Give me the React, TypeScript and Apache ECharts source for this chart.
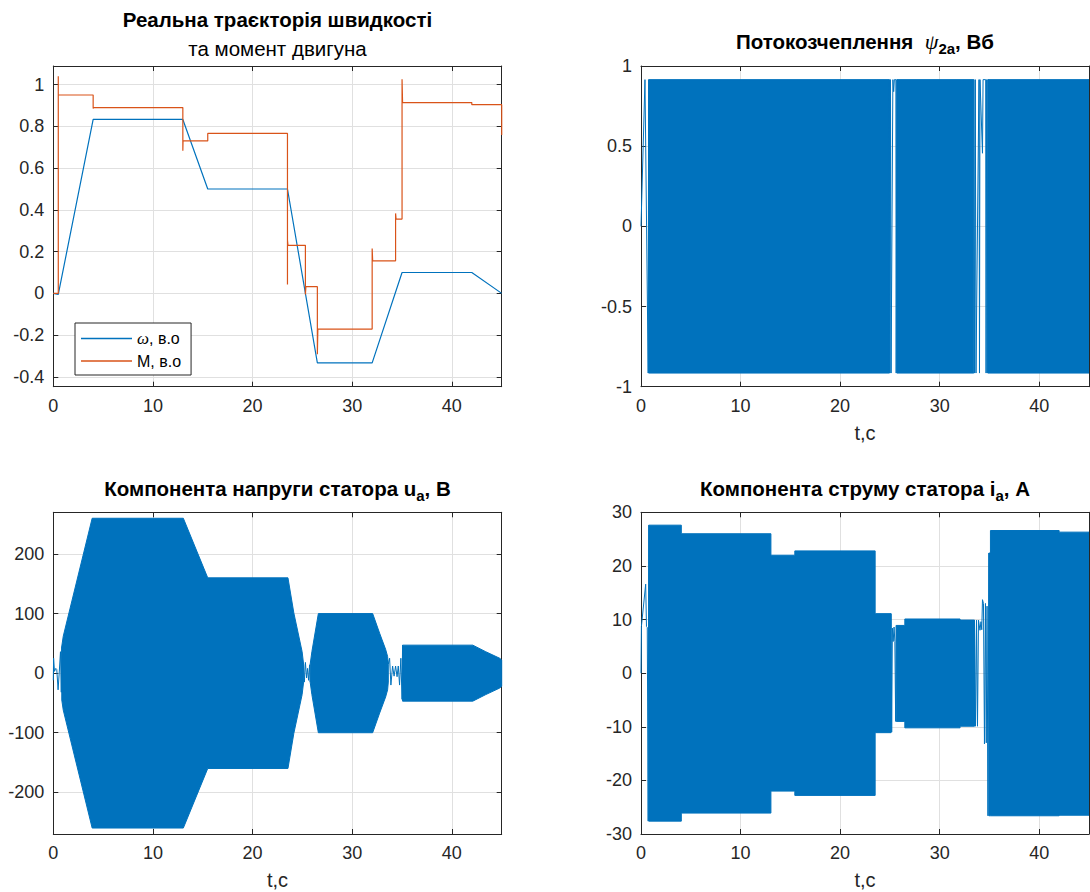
import React, { useEffect, useRef } from 'react';
import * as echarts from 'echarts';

// ---------- Top-left: speed ω and torque M (p.u.) ----------
const wT = [0, 0.5, 4.0, 13.0, 15.5, 23.5, 26.5, 32.0, 35.0, 42.0, 45.0];
const wV = [0, -0.005, 0.833, 0.833, 0.5, 0.5, -0.333, -0.333, 0.1, 0.1, 0];

const mT = [0, 0.5, 0.5, 0.5, 4.0, 4.0, 4.05, 13.0, 13.0, 13.02, 15.5, 15.5, 23.5, 23.5, 23.5, 23.55, 25.3, 25.3, 25.35, 26.5, 26.5, 26.55, 32.0, 32.0, 32.05, 34.35, 34.35, 34.4, 35.0, 35.0, 35.05, 42.0, 42.0, 45.0, 45.0];
const mV = [0, 0, 1.04, 0.95, 0.95, 0.885, 0.89, 0.89, 0.683, 0.73, 0.73, 0.766, 0.766, 0.043, 0.255, 0.23, 0.23, -0.005, 0.032, 0.032, -0.292, -0.171, -0.171, 0.215, 0.156, 0.156, 0.383, 0.356, 0.356, 1.025, 0.914, 0.914, 0.904, 0.904, 0.758];

// ---------- Top-right: flux linkage ψ2a envelope (Wb) ----------
const psiBandT = [0.77, 24.95, 25.3, 25.7, 33.43, 34.0, 34.84, 45.0];
const psiBandUp = [0.915, 0.915, null, 0.915, 0.915, null, 0.915, 0.915];
const psiBandLo = [-0.915, -0.915, null, -0.915, -0.915, null, -0.915, -0.915];
const psiW1T = [0, 0.4, 0.72, 0.77];
const psiW1V = [0, 0.915, -0.915, 0.915];
const psiW2T = [24.95, 25.0, 25.06, 25.12, 25.3, 25.38, 25.45, 25.6, 25.63, 25.7];
const psiW2V = [0.915, -0.915, 0.915, -0.915, 0.915, 0.84, 0.915, 0.915, -0.915, 0.915];
const psiW3T = [33.43, 33.5, 33.58, 33.65, 33.95, 34.0, 34.05, 34.3, 34.36, 34.62, 34.66, 34.72, 34.78, 34.84];
const psiW3V = [0.915, -0.915, 0.915, -0.915, 0.915, -0.915, 0.915, 0.456, 0.915, 0.915, -0.915, 0.915, -0.915, 0.915];

// ---------- Bottom-left: stator voltage u_a envelope (V) ----------
const uBandT = [0.85, 1.0, 3.9, 13.05, 15.5, 23.55, 24.14, 24.97, 25.12, 25.5, 25.78, 25.95, 26.6, 32.05, 32.75, 33.35, 33.55, 33.62, 34.5, 35.05, 42.1, 43.4, 44.8, 45.0];
const uBandUp = [45, 62, 260, 260, 160, 160, 101, 36, 15, null, 15, 36, 100, 100, 67, 40, 28, 15, null, 47, 47, 36, 25, 22];
const uBandLo = [-45, -62, -260, -260, -160, -160, -101, -36, -15, null, -15, -36, -100, -100, -67, -40, -28, -15, null, -47, -47, -36, -25, -22];
const uW1T = [0, 0.03, 0.12, 0.25, 0.35, 0.48, 0.6, 0.72, 0.8, 0.85];
const uW1V = [-12, 25, 3, 8, 6, -28, 2, 36, -32, 45];
const uW2T = [25.12, 25.2, 25.3, 25.42, 25.52, 25.62, 25.72, 25.78];
const uW2V = [15, -15, 18, -8, 8, -12, 14, -15];
const uW3T = [33.62, 33.75, 33.88, 34.05, 34.2, 34.35, 34.5, 34.62, 34.75, 34.88, 35.0, 35.05];
const uW3V = [15, 25, -20, 12, -5, 12, -6, 12, -20, 25, -44, 47];

// ---------- Bottom-right: stator current i_a envelope (A) ----------
const iBandT = [0.78, 4.05, 4.05, 13.05, 13.05, 15.45, 15.45, 23.52, 23.52, 25.12, 25.4, 25.64, 26.5, 26.5, 32.05, 32.05, 33.5, 33.7, 34.94, 35.1, 35.1, 42.0, 42.0, 45.0];
const iBandUp = [27.6, 27.6, 26.0, 26.0, 22.0, 22.0, 22.8, 22.8, 11.1, 11.1, null, 8.9, 8.9, 10.1, 10.1, 9.9, 9.9, null, 22.4, 22.4, 26.6, 26.6, 26.3, 26.3];
const iBandLo = [-27.6, -27.6, -26.1, -26.1, -22.0, -22.0, -22.8, -22.8, -11.1, -11.1, null, -9.0, -9.0, -10.2, -10.2, -9.9, -9.9, null, -26.6, -26.6, -26.6, -26.6, -26.5, -26.5];
const iW1T = [0, 0.04, 0.47, 0.55, 0.63, 0.72, 0.78];
const iW1V = [0, 8.7, 16.6, 8.7, 8.5, -27.6, 27.6];
const iW2T = [25.12, 25.18, 25.25, 25.33, 25.42, 25.5, 25.58, 25.64];
const iW2V = [11.1, -11, 8.4, 5.9, 8.6, 5.9, -9, 8.9];
const iW3T = [33.5, 33.6, 33.7, 33.8, 33.9, 34.05, 34.15, 34.23, 34.3, 34.4, 34.5, 34.6, 34.68, 34.76, 34.85, 34.94];
const iW3V = [9.9, -9.9, 9.9, -9.9, 9.9, 8.0, 9.6, 8.1, 13.7, 13.0, -13.2, 13.0, -13, 12.5, -26.6, 22.4];

// ---------- axis settings ----------
const xTicks = { min: 0, max: 45, interval: 10 };
const yTL = { min: -0.447, max: 1.089, step: 0.2 };
const yTR = { min: -1, max: 1, step: 0.5 };
const yBL = { min: -270, max: 270, step: 100 };
const yBR = { min: -30, max: 30, step: 10 };

const BLUE = '#0072BD';
const ORANGE = '#D95319';
const AX = '#262626';
const GRIDC = '#e0e0e0';
const FONT = '"Liberation Sans", Arial, Helvetica, sans-serif';
const SERIF = '"Liberation Serif", "DejaVu Serif", serif';

const grids = [
  { left: 53.3, top: 66, width: 448.4, height: 320.7 },
  { left: 641, top: 66, width: 448, height: 320.7 },
  { left: 53.3, top: 512.3, width: 448.4, height: 321.7 },
  { left: 641, top: 512.3, width: 448, height: 321.7 },
];

function pairs(T: number[], V: (number | null)[]) {
  return T.map((t, i) => [t, V[i] == null ? '-' : V[i]]);
}

function xAxes(gi: number, named: boolean) {
  const base: any = {
    type: 'value', gridIndex: gi, min: xTicks.min, max: xTicks.max, interval: xTicks.interval,
    axisLine: { show: true, onZero: false, lineStyle: { color: AX, width: 1 } },
    axisTick: { show: true, inside: true, length: 5, lineStyle: { color: AX, width: 1 } },
  };
  return [
    {
      ...base, position: 'bottom',
      axisLabel: { show: true, color: AX, fontSize: 18, fontFamily: FONT, margin: 10, showMaxLabel: false },
      splitLine: { show: true, lineStyle: { color: GRIDC, width: 1 } },
      name: named ? 't,c' : '', nameLocation: 'middle', nameGap: 36,
      nameTextStyle: { color: AX, fontSize: 20, fontFamily: FONT },
    },
    { ...base, position: 'top', axisLabel: { show: false }, splitLine: { show: false } },
  ];
}

function yAxes(gi: number, r: { min: number; max: number; step: number }) {
  const aligned = Math.abs(r.min / r.step - Math.round(r.min / r.step)) < 1e-9;
  const base: any = {
    type: 'value', gridIndex: gi, min: r.min, max: r.max,
    axisLine: { show: true, onZero: false, lineStyle: { color: AX, width: 1 } },
    axisTick: { show: true, inside: true, length: 5, lineStyle: { color: AX, width: 1 } },
  };
  if (aligned) base.interval = r.step;
  else { base.minInterval = r.step; base.maxInterval = r.step; base.splitNumber = Math.round((r.max - r.min) / r.step); }
  return [
    {
      ...base, position: 'left',
      axisLabel: { show: true, color: AX, fontSize: 18, fontFamily: FONT, margin: 9, showMinLabel: aligned, showMaxLabel: aligned },
      splitLine: { show: true, lineStyle: { color: GRIDC, width: 1 } },
    },
    { ...base, position: 'right', axisLabel: { show: false }, splitLine: { show: false } },
  ];
}

function band(gi: number, T: number[], Up: (number | null)[], Lo: (number | null)[]) {
  return {
    type: 'custom', xAxisIndex: gi * 2, yAxisIndex: gi * 2, silent: true, clip: true,
    data: [[T[0], 0]],
    renderItem: (_p: any, api: any) => {
      const children: any[] = [];
      let seg: number[] = [];
      const flush = () => {
        if (seg.length > 1) {
          const top = seg.map((i) => api.coord([T[i], Up[i]]));
          const bot = seg.slice().reverse().map((i) => api.coord([T[i], Lo[i]]));
          children.push({ type: 'polygon', shape: { points: top.concat(bot) }, style: { fill: BLUE, stroke: BLUE, lineWidth: 1 } });
        }
        seg = [];
      };
      for (let i = 0; i < T.length; i++) {
        if (Up[i] == null) flush(); else seg.push(i);
      }
      flush();
      return { type: 'group', children };
    },
  };
}

function wiggle(gi: number, T: number[], V: number[]) {
  return {
    type: 'line', xAxisIndex: gi * 2, yAxisIndex: gi * 2, data: pairs(T, V), symbol: 'none',
    lineStyle: { color: BLUE, width: 1 }, silent: true,
  };
}

const titleRich: any = {
  b: { fontFamily: FONT, fontSize: 20.5, fontWeight: 'bold', color: '#000', lineHeight: 30 },
  n: { fontFamily: FONT, fontSize: 20.5, color: '#000', lineHeight: 30 },
  g: { fontFamily: SERIF, fontStyle: 'italic', fontSize: 22, color: '#000', lineHeight: 30 },
  s: { fontFamily: FONT, fontSize: 15, fontWeight: 'bold', color: '#000', lineHeight: 12, verticalAlign: 'bottom' },
};

function title(x: number, y: number, text: string) {
  return { type: 'text', x, y, z: 100, style: { text, rich: titleRich, align: 'center', verticalAlign: 'middle' } };
}

function buildOption() {
  const xAxis = [...xAxes(0, false), ...xAxes(1, true), ...xAxes(2, true), ...xAxes(3, true)];
  const yAxis = [...yAxes(0, yTL), ...yAxes(1, yTR), ...yAxes(2, yBL), ...yAxes(3, yBR)];
  const series: any[] = [
    {
      name: 'ω, в.о', type: 'line', xAxisIndex: 0, yAxisIndex: 0, data: pairs(wT, wV), symbol: 'none',
      lineStyle: { color: BLUE, width: 1.2 }, itemStyle: { color: BLUE },
    },
    {
      name: 'M, в.о', type: 'line', xAxisIndex: 0, yAxisIndex: 0, data: pairs(mT, mV), symbol: 'none',
      lineStyle: { color: ORANGE, width: 1.2 }, itemStyle: { color: ORANGE },
    },
    band(1, psiBandT, psiBandUp, psiBandLo),
    wiggle(1, psiW1T, psiW1V), wiggle(1, psiW2T, psiW2V), wiggle(1, psiW3T, psiW3V),
    band(2, uBandT, uBandUp, uBandLo),
    wiggle(2, uW1T, uW1V), wiggle(2, uW2T, uW2V), wiggle(2, uW3T, uW3V),
    band(3, iBandT, iBandUp, iBandLo),
    wiggle(3, iW1T, iW1V), wiggle(3, iW2T, iW2V), wiggle(3, iW3T, iW3V),
  ];
  return {
    animation: false,
    backgroundColor: '#ffffff',
    grid: grids.map((g) => ({ ...g, containLabel: false })),
    xAxis, yAxis, series,
    legend: {
      data: ['ω, в.о', 'M, в.о'], left: 75, top: 323, orient: 'vertical',
      backgroundColor: '#ffffff', borderColor: AX, borderWidth: 1, borderRadius: 0,
      padding: [7, 10, 6, 6], itemGap: 6, itemWidth: 51, itemHeight: 1.5, icon: 'rect', selectedMode: false,
      formatter: (n: string) => (n.charAt(0) === 'ω' ? '{i|ω}' + n.slice(1) : n),
      textStyle: {
        fontFamily: FONT, fontSize: 16, color: '#000',
        rich: { i: { fontFamily: SERIF, fontStyle: 'italic', fontSize: 17, color: '#000' } },
      },
    },
    graphic: [
      title(277.5, 19.5, '{b|Реальна траєкторія швидкості}'),
      title(277.5, 48.5, '{n|та момент двигуна}'),
      title(865, 41, '{b|Потокозчеплення  }{g|ψ}{s|2a}{b|, Вб}'),
      title(277.5, 488, '{b|Компонента напруги статора u}{s|a}{b|, В}'),
      title(865, 488, '{b|Компонента струму статора i}{s|a}{b|, А}'),
    ],
  };
}

export default function App() {
  const ref = useRef<HTMLDivElement>(null);
  useEffect(() => {
    if (!ref.current) return;
    const chart = echarts.init(ref.current, null, { renderer: 'svg' });
    chart.setOption(buildOption() as any);
    return () => chart.dispose();
  }, []);
  return (
    <div
      ref={ref}
      style={{ position: 'absolute', left: 0, top: 0, width: 1090, height: 892, background: '#fff' }}
    />
  );
}
